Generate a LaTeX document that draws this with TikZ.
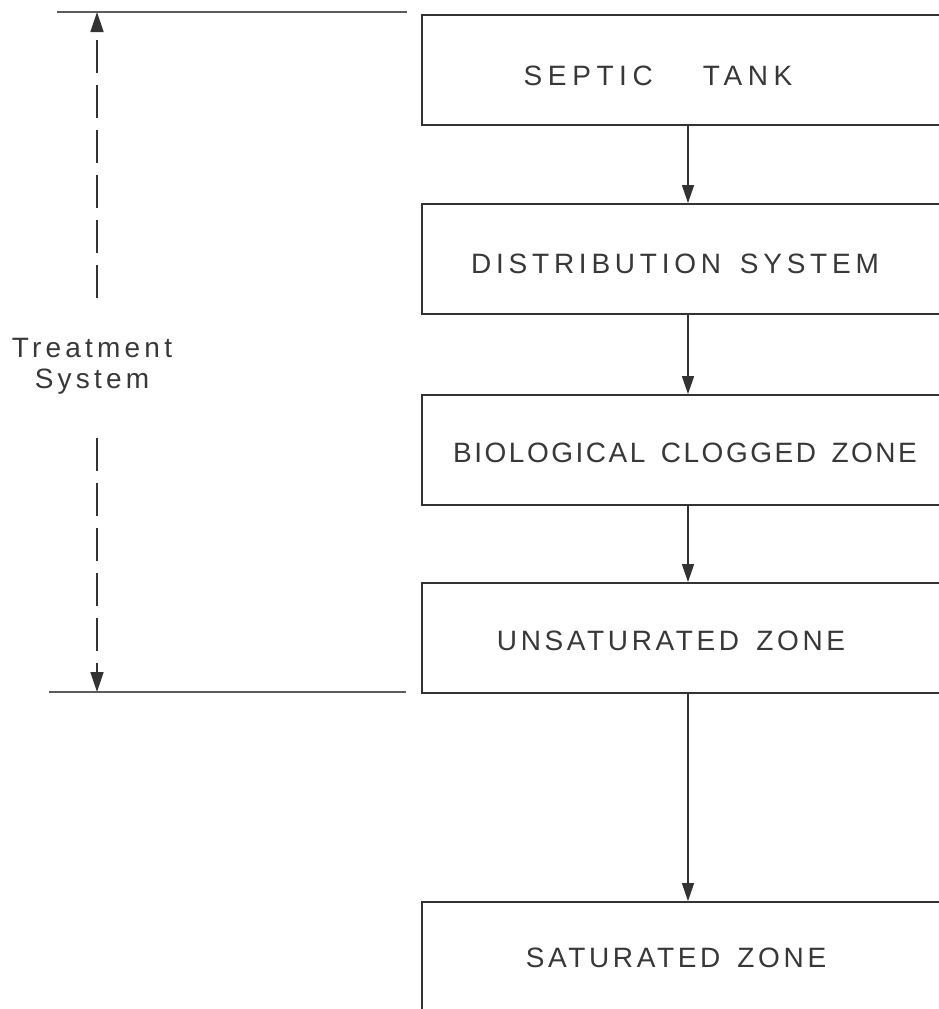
\documentclass[tikz,border=0pt]{standalone}
\usepackage{fontspec}
\usetikzlibrary{arrows.meta}
\newfontfamily\boxfont[LetterSpace=9,WordSpace=1.5]{Liberation Sans}
\newfontfamily\sidefont[LetterSpace=15]{Liberation Sans}
\definecolor{ink}{HTML}{333333}
\definecolor{inktext}{HTML}{383838}
% spaced lettering (#1), shifted sideways by half of #2, baseline #3 below the box centre
\newcommand{\zonetext}[4]{\raisebox{-#3}[0pt][0pt]{\addfontfeature{LetterSpace=#1}\hspace*{#2}#4}}
\tikzset{
  zonebox/.style={draw=ink, line width=1.8pt, minimum width=532pt, minimum height=110pt,
    inner sep=0pt, font=\boxfont\fontsize{28}{33}\selectfont, text=inktext},
  flow/.style={draw=ink, line width=1.4pt, -{Triangle[length=18pt,width=12pt]}},
  limitline/.style={draw=ink!80, line width=1.1pt},
  dimline/.style={draw=ink, line width=1.4pt, dash pattern=on 33pt off 12pt,
    -{Triangle[length=20pt,width=13pt]}},
}
\begin{document}
\begin{tikzpicture}[x=1pt,y=-1pt]
  \useasboundingbox (0,0) rectangle (939,1009);
  \clip (0,0) rectangle (939,1009);

  % process chain
  \node[zonebox] (tank)  at (688,70)
    {\zonetext{20}{-60pt}{15pt}{SEPTIC\hspace{30pt} TANK}};
  \node[zonebox] (dist)  at (688,259)
    {\zonetext{17}{-26pt}{14pt}{DISTRIBUTION SYSTEM}};
  \node[zonebox] (clog)  at (688,450)
    {\zonetext{9}{-6pt}{12pt}{BIOLOGICAL CLOGGED ZONE}};
  \node[zonebox] (unsat) at (688,638)
    {\zonetext{13}{-34pt}{12pt}{UNSATURATED ZONE}};
  \node[zonebox] (sat)   at (688,957)
    {\zonetext{13}{-24pt}{10pt}{SATURATED ZONE}};

  \draw[flow] (tank.south)  -- (dist.north);
  \draw[flow] (dist.south)  -- (clog.north);
  \draw[flow] (clog.south)  -- (unsat.north);
  \draw[flow] (unsat.south) -- (sat.north);

  % extent of the treatment system
  \coordinate (topL) at (57,12);
  \coordinate (topR) at (407,12);
  \coordinate (botL) at (49,692);
  \coordinate (botR) at (406,692);
  \draw[limitline] (topL) -- (topR);
  \draw[limitline] (botL) -- (botR);

  \node[font=\sidefont\fontsize{28}{31}\selectfont, text=inktext, align=center]
    (label) at (92,366) {Treatment\\System};

  \coordinate (dimTop) at (97,12);
  \coordinate (dimBot) at (97,692);
  \coordinate (gapTop) at (97,298);
  \coordinate (gapBot) at (97,438);
  \draw[dimline] (gapTop) -- (dimTop);
  \draw[dimline] (gapBot) -- (dimBot);
\end{tikzpicture}
\end{document}
